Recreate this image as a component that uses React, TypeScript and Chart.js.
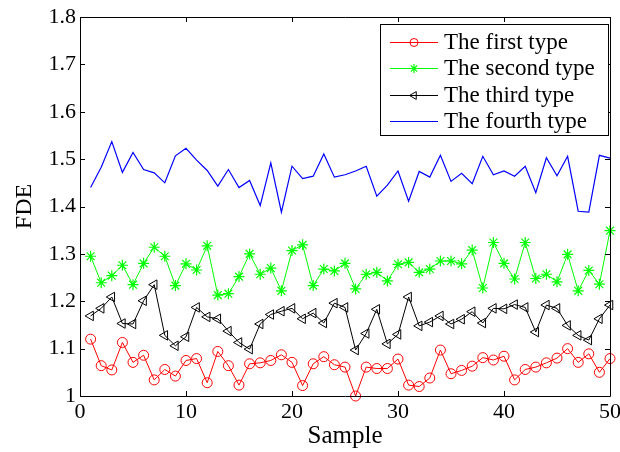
import React, { useEffect, useRef } from "react";
import { Chart, registerables } from "chart.js";
import { drawPoint } from "chart.js/helpers";

Chart.register(...registerables);

const sampleIndex = [
  1, 2, 3, 4, 5, 6, 7, 8, 9, 10, 11, 12, 13, 14, 15, 16, 17, 18, 19, 20, 21, 22, 23, 24, 25,
  26, 27, 28, 29, 30, 31, 32, 33, 34, 35, 36, 37, 38, 39, 40, 41, 42, 43, 44, 45, 46, 47, 48, 49, 50,
];

const firstType = [
  1.120, 1.064, 1.055, 1.113, 1.071, 1.086, 1.034, 1.056, 1.042, 1.075,
  1.079, 1.028, 1.094, 1.064, 1.023, 1.068, 1.070, 1.075, 1.087, 1.071,
  1.022, 1.068, 1.083, 1.066, 1.061, 1.000, 1.061, 1.058, 1.058, 1.078,
  1.023, 1.020, 1.038, 1.097, 1.047, 1.054, 1.063, 1.081, 1.076, 1.084,
  1.034, 1.056, 1.061, 1.070, 1.080, 1.100, 1.071, 1.089, 1.050, 1.079,
];

const secondType = [
  1.295, 1.239, 1.254, 1.276, 1.235, 1.280, 1.314, 1.295, 1.233, 1.279,
  1.266, 1.317, 1.213, 1.216, 1.252, 1.300, 1.257, 1.270, 1.222, 1.307,
  1.319, 1.233, 1.268, 1.264, 1.280, 1.226, 1.257, 1.261, 1.243, 1.278,
  1.282, 1.261, 1.268, 1.285, 1.285, 1.279, 1.308, 1.228, 1.324, 1.280,
  1.247, 1.324, 1.248, 1.257, 1.241, 1.299, 1.222, 1.265, 1.236, 1.349,
];

const thirdType = [
  1.169, 1.185, 1.209, 1.153, 1.152, 1.201, 1.235, 1.128, 1.106, 1.125,
  1.187, 1.167, 1.163, 1.137, 1.113, 1.099, 1.152, 1.172, 1.179, 1.185,
  1.163, 1.175, 1.154, 1.196, 1.187, 1.097, 1.132, 1.183, 1.110, 1.130,
  1.209, 1.148, 1.156, 1.169, 1.152, 1.162, 1.178, 1.154, 1.185, 1.184,
  1.193, 1.187, 1.135, 1.192, 1.185, 1.149, 1.128, 1.118, 1.163, 1.192,
];

const fourthType = [
  1.440, 1.483, 1.537, 1.472, 1.514, 1.478, 1.471, 1.450, 1.507, 1.523,
  1.498, 1.476, 1.443, 1.478, 1.440, 1.455, 1.402, 1.492, 1.388, 1.485,
  1.459, 1.464, 1.511, 1.462, 1.467, 1.475, 1.485, 1.422, 1.445, 1.475,
  1.411, 1.474, 1.462, 1.508, 1.453, 1.470, 1.448, 1.506, 1.467, 1.475,
  1.464, 1.485, 1.429, 1.503, 1.465, 1.506, 1.390, 1.388, 1.508, 1.502,
];

const seriesLabels = ["The first type", "The second type", "The third type", "The fourth type"];
const xTickValues = [0, 10, 20, 30, 40, 50];
const yTickValues = [1, 1.1, 1.2, 1.3, 1.4, 1.5, 1.6, 1.7, 1.8];
const xTitle = "Sample";
const yTitle = "FDE";

const FONT = "'Liberation Serif', 'Times New Roman', serif";

const toPoints = (vals: number[]) => vals.map((v, i) => ({ x: sampleIndex[i], y: v }));

const framePlugin = {
  id: "frameTicks",
  afterDatasetsDraw(chart: any) {
    const { ctx, chartArea: a, scales } = chart;
    const x = scales.x;
    const y = scales.y;
    ctx.save();
    ctx.strokeStyle = "#000";
    ctx.lineWidth = 1;
    ctx.beginPath();
    ctx.rect(Math.round(a.left) + 0.5, Math.round(a.top) + 0.5, Math.round(a.right - a.left), Math.round(a.bottom - a.top));
    ctx.stroke();
    const tl = 5;
    ctx.beginPath();
    xTickValues.forEach((v) => {
      const px = Math.round(x.getPixelForValue(v)) + 0.5;
      ctx.moveTo(px, a.bottom);
      ctx.lineTo(px, a.bottom - tl);
      ctx.moveTo(px, a.top);
      ctx.lineTo(px, a.top + tl);
    });
    yTickValues.forEach((v) => {
      const py = Math.round(y.getPixelForValue(v)) + 0.5;
      ctx.moveTo(a.left, py);
      ctx.lineTo(a.left + tl, py);
      ctx.moveTo(a.right, py);
      ctx.lineTo(a.right - tl, py);
    });
    ctx.stroke();
    ctx.restore();
  },
};

const legendPlugin = {
  id: "boxLegend",
  afterDraw(chart: any) {
    const { ctx } = chart;
    const bx = 380.5, by = 24.5, bw = 228, bh = 111;
    ctx.save();
    ctx.fillStyle = "#fff";
    ctx.fillRect(bx, by, bw, bh);
    ctx.strokeStyle = "#000";
    ctx.lineWidth = 1;
    ctx.strokeRect(bx, by, bw, bh);
    ctx.font = `23px ${FONT}`;
    ctx.textBaseline = "middle";
    ctx.textAlign = "left";
    chart.data.datasets.forEach((ds: any, i: number) => {
      const ry = 41.5 + i * 26.5;
      const ly = Math.round(ry) + 0.5;
      ctx.strokeStyle = ds.borderColor;
      ctx.lineWidth = 1;
      ctx.beginPath();
      ctx.moveTo(390, ly);
      ctx.lineTo(438, ly);
      ctx.stroke();
      if (ds.pointRadius > 0) {
        ctx.save();
        ctx.fillStyle = "rgba(0,0,0,0)";
        ctx.strokeStyle = ds.pointBorderColor;
        ctx.lineWidth = ds.pointBorderWidth || 1;
        drawPoint(
          ctx,
          {
            pointStyle: ds.pointStyle,
            rotation: ds.pointRotation || 0,
            radius: ds.pointRadius - 1,
            borderWidth: ds.pointBorderWidth || 1,
          } as any,
          414,
          ly
        );
        ctx.restore();
      }
      ctx.fillStyle = "#000";
      ctx.fillText(ds.label, 444, ry + 1);
    });
    ctx.restore();
  },
};

export default function App() {
  const canvasRef = useRef<HTMLCanvasElement | null>(null);

  useEffect(() => {
    document.body.style.margin = "0";
    const canvas = canvasRef.current;
    if (!canvas) return;
    const chart = new Chart(canvas, {
      type: "line",
      data: {
        datasets: [
          {
            label: seriesLabels[0],
            data: toPoints(firstType),
            borderColor: "#ff0000",
            backgroundColor: "transparent",
            borderWidth: 1,
            pointStyle: "circle",
            pointRadius: 5,
            pointBorderColor: "#ff0000",
            pointBackgroundColor: "transparent",
            pointBorderWidth: 1,
            clip: false as any,
          },
          {
            label: seriesLabels[1],
            data: toPoints(secondType),
            borderColor: "#00ff00",
            backgroundColor: "transparent",
            borderWidth: 1,
            pointStyle: "star",
            pointRadius: 5.5,
            pointBorderColor: "#00ff00",
            pointBackgroundColor: "transparent",
            pointBorderWidth: 1.2,
            clip: false as any,
          },
          {
            label: seriesLabels[2],
            data: toPoints(thirdType),
            borderColor: "#000000",
            backgroundColor: "transparent",
            borderWidth: 1,
            pointStyle: "triangle",
            pointRotation: -90,
            pointRadius: 5.5,
            pointBorderColor: "#000000",
            pointBackgroundColor: "transparent",
            pointBorderWidth: 1,
            clip: false as any,
          },
          {
            label: seriesLabels[3],
            data: toPoints(fourthType),
            borderColor: "#0000ff",
            backgroundColor: "transparent",
            borderWidth: 1.2,
            pointRadius: 0,
            clip: false as any,
          },
        ],
      },
      options: {
        animation: false,
        responsive: false,
        maintainAspectRatio: false,
        devicePixelRatio: 1,
        layout: { padding: { top: 17, right: 10, left: 0, bottom: 0 } },
        plugins: {
          legend: { display: false },
          tooltip: { enabled: false },
        },
        scales: {
          x: {
            type: "linear",
            min: 0,
            max: 50,
            afterBuildTicks: (scale: any) => {
              scale.ticks = xTickValues.map((v) => ({ value: v }));
            },
            afterFit: (scale: any) => {
              scale.height = 56;
              scale.paddingLeft = 0;
              scale.paddingRight = 0;
            },
            grid: { display: false, drawTicks: false },
            border: { display: false },
            ticks: {
              padding: 3,
              maxRotation: 0,
              autoSkip: false,
              color: "#000",
              font: { family: FONT, size: 22 },
              callback: (v: any) => String(v),
            },
            title: {
              display: true,
              text: xTitle,
              color: "#000",
              font: { family: FONT, size: 25 },
              padding: { top: 0, bottom: 1 },
            },
          },
          y: {
            type: "linear",
            min: 1,
            max: 1.8,
            afterBuildTicks: (scale: any) => {
              scale.ticks = yTickValues.map((v) => ({ value: v }));
            },
            afterFit: (scale: any) => {
              scale.width = 80;
              scale.paddingTop = 0;
              scale.paddingBottom = 0;
            },
            grid: { display: false, drawTicks: false },
            border: { display: false },
            ticks: {
              padding: 4,
              autoSkip: false,
              color: "#000",
              font: { family: FONT, size: 22 },
              callback: (v: any) => String(Number(Number(v).toFixed(1))),
            },
            title: {
              display: true,
              text: yTitle,
              color: "#000",
              font: { family: FONT, size: 24 },
              padding: { top: 10, bottom: 0 },
            },
          },
        },
      },
      plugins: [framePlugin, legendPlugin],
    } as any);
    return () => chart.destroy();
  }, []);

  return (
    <div style={{ width: 620, height: 452, background: "#fff" }}>
      <canvas ref={canvasRef} width={620} height={452} style={{ display: "block", width: 620, height: 452 }} />
    </div>
  );
}
